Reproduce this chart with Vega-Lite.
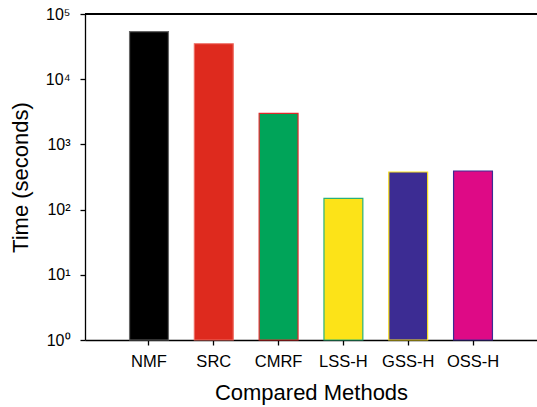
{
  "$schema": "https://vega.github.io/schema/vega-lite/v6.json",
  "width": 452,
  "height": 326,
  "autosize": {"type": "none"},
  "padding": {"left": 85, "top": 14, "right": 0, "bottom": 67},
  "background": "white",
  "config": {
    "view": {"stroke": null},
    "font": "Liberation Sans",
    "axis": {"grid": false, "domainColor": "black", "tickColor": "black", "labelColor": "black", "titleColor": "black", "labelFont": "Liberation Sans", "titleFont": "Liberation Sans", "titleFontWeight": "normal"}
  },
  "data": {
    "values": [
      {"method": "NMF", "time": 53700},
      {"method": "SRC", "time": 35000},
      {"method": "CMRF", "time": 3000},
      {"method": "LSS-H", "time": 149},
      {"method": "GSS-H", "time": 377},
      {"method": "OSS-H", "time": 391}
    ]
  },
  "layer": [
    {
      "mark": {"type": "bar", "strokeWidth": 1.2},
      "encoding": {
        "x": {
          "field": "method", "type": "nominal", "sort": null,
          "scale": {"paddingInner": 0.4, "paddingOuter": 0.6875},
          "axis": {"title": "Compared Methods", "labelAngle": 0, "labelFontSize": 16.5, "titleFontSize": 22, "tickSize": 5, "labelPadding": 8, "titlePadding": 13, "domainWidth": 1.3, "tickWidth": 1.3}
        },
        "y": {
          "field": "time", "type": "quantitative",
          "scale": {"type": "log", "domain": [1, 100000], "nice": false},
          "axis": {"title": "Time (seconds)", "values": [1, 10, 100, 1000, 10000, 100000], "labelExpr": "'10' + ['⁰','¹','²','³','⁴','⁵'][round(log(datum.value)/LN10)]", "labelFontSize": 16, "titleFontSize": 22, "tickSize": 5, "labelPadding": 10, "titlePadding": 13, "domainWidth": 1.3, "tickWidth": 1.3}
        },
        "y2": {"datum": 1},
        "color": {
          "field": "method", "type": "nominal", "legend": null,
          "scale": {"domain": ["NMF", "SRC", "CMRF", "LSS-H", "GSS-H", "OSS-H"], "range": ["#000000", "#DE2A1E", "#00A459", "#FCE318", "#3C2C93", "#DE0A86"]}
        },
        "stroke": {
          "field": "method", "type": "nominal", "legend": null,
          "scale": {"domain": ["NMF", "SRC", "CMRF", "LSS-H", "GSS-H", "OSS-H"], "range": ["#666666", "#EE6A60", "#E0282A", "#2AB07A", "#F8E020", "#3C2C93"]}
        }
      }
    },
    {
      "mark": {"type": "rule", "color": "black", "strokeWidth": 1.3},
      "encoding": {"y": {"datum": 100000}}
    }
  ]
}
